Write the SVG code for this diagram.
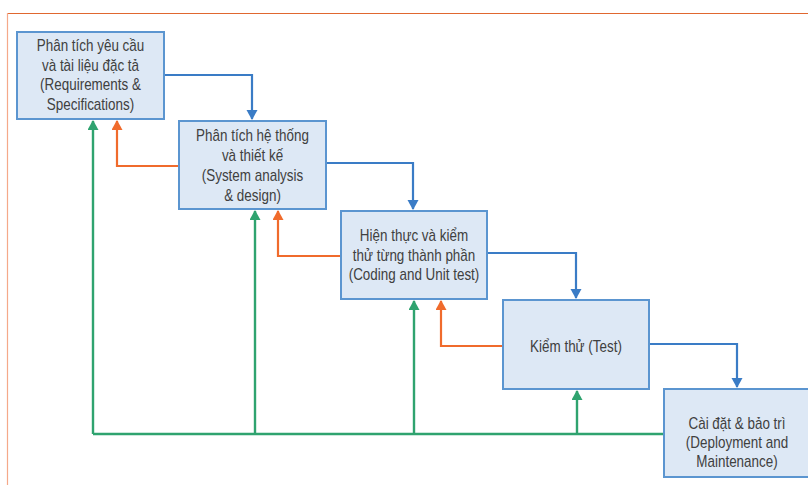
<svg xmlns="http://www.w3.org/2000/svg" width="808" height="485" viewBox="0 0 808 485">
  <style>
    .box { fill: #dde8f5; stroke: #5b95d0; stroke-width: 2; }
    .lbl { font-family: "Liberation Sans", Arial, sans-serif; font-size: 16px; fill: #404040; text-anchor: middle; }
    .fw { fill: none; stroke: #3a7cc6; stroke-width: 2.2; }
    .bk { fill: none; stroke: #f06b2c; stroke-width: 2.2; }
    .gr { fill: none; stroke: #2fa36f; stroke-width: 2.4; }
  </style>
  <defs>
    <marker id="ahBlue" markerWidth="12" markerHeight="12" refX="9" refY="5.5" orient="auto" markerUnits="userSpaceOnUse">
      <path d="M0,0 L10,5.5 L0,11 Z" fill="#3a7cc6"/>
    </marker>
    <marker id="ahOrange" markerWidth="12" markerHeight="12" refX="9" refY="5.5" orient="auto" markerUnits="userSpaceOnUse">
      <path d="M0,0 L10,5.5 L0,11 Z" fill="#f06b2c"/>
    </marker>
    <marker id="ahGreen" markerWidth="12" markerHeight="12" refX="9" refY="5.5" orient="auto" markerUnits="userSpaceOnUse">
      <path d="M0,0 L10,5.5 L0,11 Z" fill="#2fa36f"/>
    </marker>
  </defs>

  <rect width="808" height="485" fill="#ffffff"/>
  <!-- page frame -->
  <line x1="7" y1="13.5" x2="808" y2="13.5" stroke="#e0672f" stroke-width="1.2"/>
  <line x1="7.5" y1="13" x2="7.5" y2="485" stroke="#f5a98a" stroke-width="1.2"/>

  <g id="connectors">
    <!-- forward flow -->
    <path class="fw" d="M164,75 H252 V119" marker-end="url(#ahBlue)"/>
    <path class="fw" d="M326,163 H413 V209" marker-end="url(#ahBlue)"/>
    <path class="fw" d="M487,253 H576 V298" marker-end="url(#ahBlue)"/>
    <path class="fw" d="M649,344 H737 V387" marker-end="url(#ahBlue)"/>
    <!-- feedback to previous phase -->
    <path class="bk" d="M179,166 H117 V121" marker-end="url(#ahOrange)"/>
    <path class="bk" d="M341,256 H278 V211" marker-end="url(#ahOrange)"/>
    <path class="bk" d="M503,346 H441 V301" marker-end="url(#ahOrange)"/>
    <!-- maintenance feedback -->
    <path class="gr" d="M664,434 H93"/>
    <path class="gr" d="M93,434 V121" marker-end="url(#ahGreen)"/>
    <path class="gr" d="M255,434 V211" marker-end="url(#ahGreen)"/>
    <path class="gr" d="M414,434 V301" marker-end="url(#ahGreen)"/>
    <path class="gr" d="M577,434 V391" marker-end="url(#ahGreen)"/>
  </g>

  <g id="requirements">
    <rect class="box" x="17" y="32" width="147" height="87"/>
    <g transform="translate(90.5 0) scale(0.84 1)">
      <text class="lbl" x="0" y="51.5">Phân tích yêu cầu</text>
      <text class="lbl" x="0" y="71">và tài liệu đặc tả</text>
      <text class="lbl" x="0" y="90.5">(Requirements &amp;</text>
      <text class="lbl" x="0" y="110">Specifications)</text>
    </g>
  </g>

  <g id="design">
    <rect class="box" x="179" y="121" width="147" height="88"/>
    <g transform="translate(252.5 0) scale(0.84 1)">
      <text class="lbl" x="0" y="141">Phân tích hệ thống</text>
      <text class="lbl" x="0" y="161">và thiết kế</text>
      <text class="lbl" x="0" y="181">(System analysis</text>
      <text class="lbl" x="0" y="201">&amp; design)</text>
    </g>
  </g>

  <g id="coding">
    <rect class="box" x="341" y="211" width="146" height="88"/>
    <g transform="translate(414 0) scale(0.84 1)">
      <text class="lbl" x="0" y="241">Hiện thực và kiểm</text>
      <text class="lbl" x="0" y="261">thử từng thành phần</text>
      <text class="lbl" x="0" y="280.5">(Coding and Unit test)</text>
    </g>
  </g>

  <g id="test">
    <rect class="box" x="503" y="300" width="146" height="89"/>
    <g transform="translate(576 0) scale(0.84 1)">
      <text class="lbl" x="0" y="352.5">Kiểm thử (Test)</text>
    </g>
  </g>

  <g id="deployment">
    <rect class="box" x="664" y="389" width="150" height="88"/>
    <g transform="translate(737 0) scale(0.84 1)">
      <text class="lbl" x="0" y="429">Cài đặt &amp; bảo trì</text>
      <text class="lbl" x="0" y="448">(Deployment and</text>
      <text class="lbl" x="0" y="467">Maintenance)</text>
    </g>
  </g>
</svg>
